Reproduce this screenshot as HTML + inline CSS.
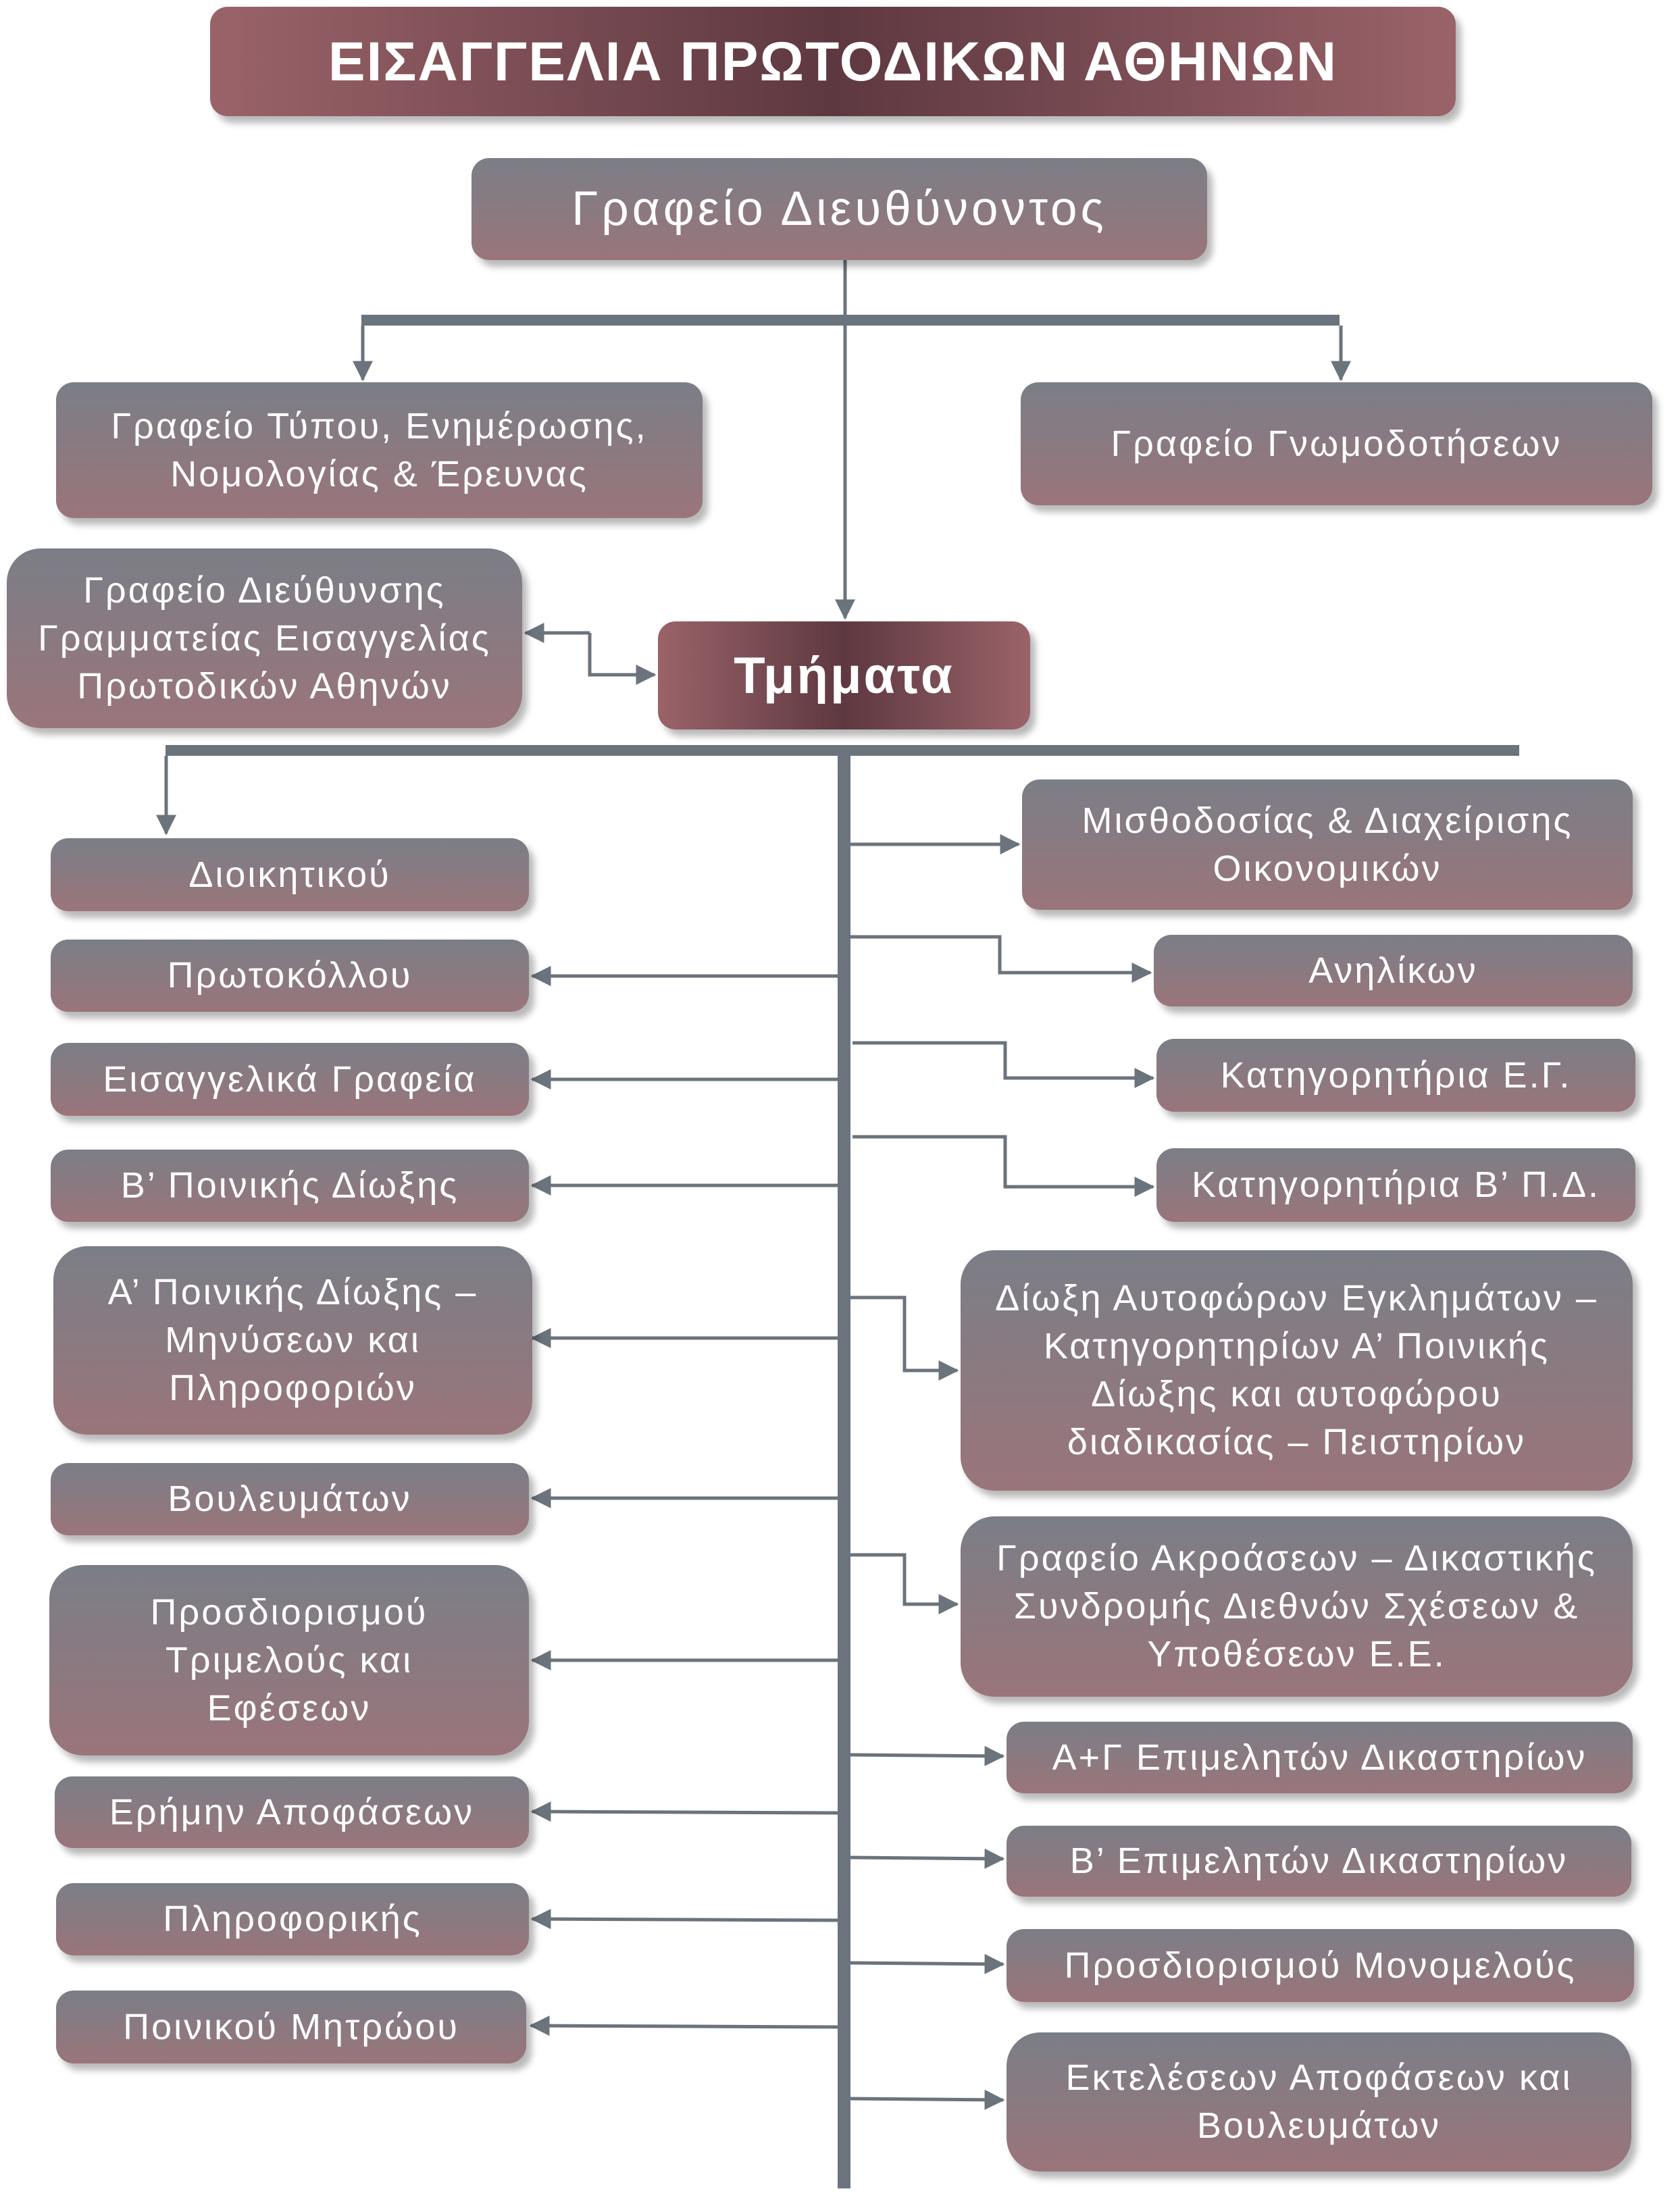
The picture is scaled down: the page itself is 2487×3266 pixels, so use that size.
<!DOCTYPE html>
<html><head><meta charset="utf-8">
<style>
body{margin:0;width:2487px;height:3266px;background:#fff;position:relative;overflow:hidden;font-family:"Liberation Sans","DejaVu Sans",sans-serif;}
.b{position:absolute;box-sizing:border-box;display:flex;align-items:center;justify-content:center;text-align:center;color:#fff;font-size:54px;line-height:71px;border-radius:26px;background:linear-gradient(#7b7e87,#9a757a);box-shadow:8px 10px 10px rgba(0,0,0,0.28);letter-spacing:3px;}
.r{border-radius:50px;}
.h{background:linear-gradient(90deg,#9a6369,#5e3840 50%,#9a6369);font-weight:bold;}
svg{position:absolute;left:0;top:0;}
</style></head><body>
<svg width="2487" height="3266">
<defs><marker id="a" markerWidth="6" markerHeight="6" refX="5.5" refY="3" orient="auto" markerUnits="strokeWidth"><path d="M0,0 L6,3 L0,6 z" fill="#6b737c"/></marker></defs>
<g stroke="#6b737c" stroke-width="5" fill="none">
<line x1="1251" y1="385" x2="1251" y2="915" marker-end="url(#a)"/>
<rect x="535" y="466" width="1448" height="16" fill="#6b737c" stroke="none"/>
<line x1="537" y1="482" x2="537" y2="562" marker-end="url(#a)"/>
<line x1="1985" y1="482" x2="1985" y2="562" marker-end="url(#a)"/>
<path d="M873,937 L778,937" marker-end="url(#a)"/>
<path d="M873,937 L873,999 L969,999" marker-end="url(#a)"/>
<rect x="245" y="1103" width="2004" height="16" fill="#6b737c" stroke="none"/>
<rect x="1240" y="1103" width="19" height="2137" fill="#6b737c" stroke="none"/>
<line x1="246" y1="1119" x2="246" y2="1234" marker-end="url(#a)"/>
<line x1="1240" y1="1445" x2="788" y2="1445" marker-end="url(#a)"/>
<line x1="1240" y1="1598" x2="788" y2="1598" marker-end="url(#a)"/>
<line x1="1240" y1="1755" x2="788" y2="1755" marker-end="url(#a)"/>
<line x1="1240" y1="1981" x2="788" y2="1981" marker-end="url(#a)"/>
<line x1="1240" y1="2218" x2="788" y2="2218" marker-end="url(#a)"/>
<line x1="1240" y1="2458" x2="788" y2="2458" marker-end="url(#a)"/>
<line x1="1240" y1="2684" x2="788" y2="2682" marker-end="url(#a)"/>
<line x1="1240" y1="2843" x2="788" y2="2841" marker-end="url(#a)"/>
<line x1="1240" y1="3001" x2="786" y2="2999" marker-end="url(#a)"/>
<line x1="1259" y1="1250" x2="1508" y2="1250" marker-end="url(#a)"/>
<path d="M1259,1387 L1480,1387 L1480,1440 L1703,1440" marker-end="url(#a)"/>
<path d="M1262,1544 L1488,1544 L1488,1596 L1707,1596" marker-end="url(#a)"/>
<path d="M1262,1683 L1488,1683 L1488,1757 L1707,1757" marker-end="url(#a)"/>
<path d="M1259,1921 L1339,1921 L1339,2029 L1417,2029" marker-end="url(#a)"/>
<path d="M1259,2302 L1339,2302 L1339,2375 L1417,2375" marker-end="url(#a)"/>
<line x1="1259" y1="2598" x2="1485" y2="2600" marker-end="url(#a)"/>
<line x1="1259" y1="2750" x2="1485" y2="2752" marker-end="url(#a)"/>
<line x1="1259" y1="2906" x2="1485" y2="2908" marker-end="url(#a)"/>
<line x1="1259" y1="3107" x2="1485" y2="3109" marker-end="url(#a)"/>
</g></svg>

<div class="b h" style="left:311px;top:10px;width:1844px;height:162px;font-size:82px;letter-spacing:2px;">ΕΙΣΑΓΓΕΛΙΑ ΠΡΩΤΟΔΙΚΩΝ ΑΘΗΝΩΝ</div>
<div class="b" style="left:698px;top:234px;width:1089px;height:151px;font-size:71px;letter-spacing:5px;">Γραφείο Διευθύνοντος</div>
<div class="b" style="left:83px;top:566px;width:957px;height:201px;">Γραφείο Τύπου, Ενημέρωσης,<br>Νομολογίας &amp; Έρευνας</div>
<div class="b" style="left:1511px;top:566px;width:935px;height:182px;">Γραφείο Γνωμοδοτήσεων</div>
<div class="b r" style="left:10px;top:812px;width:763px;height:266px;">Γραφείο Διεύθυνσης<br>Γραμματείας Εισαγγελίας<br>Πρωτοδικών Αθηνών</div>
<div class="b h" style="left:974px;top:920px;width:551px;height:160px;font-size:76px;letter-spacing:3px;">Τμήματα</div>

<div class="b" style="left:75px;top:1241px;width:708px;height:108px;">Διοικητικού</div>
<div class="b" style="left:75px;top:1391px;width:708px;height:107px;">Πρωτοκόλλου</div>
<div class="b" style="left:75px;top:1544px;width:708px;height:108px;">Εισαγγελικά Γραφεία</div>
<div class="b" style="left:75px;top:1702px;width:708px;height:107px;">Β’ Ποινικής Δίωξης</div>
<div class="b r" style="left:79px;top:1845px;width:709px;height:279px;">Α’ Ποινικής Δίωξης –<br>Μηνύσεων και<br>Πληροφοριών</div>
<div class="b" style="left:75px;top:2166px;width:708px;height:107px;">Βουλευμάτων</div>
<div class="b r" style="left:73px;top:2317px;width:710px;height:282px;">Προσδιορισμού<br>Τριμελούς και<br>Εφέσεων</div>
<div class="b" style="left:81px;top:2630px;width:702px;height:106px;">Ερήμην Αποφάσεων</div>
<div class="b" style="left:83px;top:2788px;width:700px;height:107px;">Πληροφορικής</div>
<div class="b" style="left:83px;top:2947px;width:696px;height:108px;">Ποινικού Μητρώου</div>

<div class="b" style="left:1513px;top:1154px;width:904px;height:193px;">Μισθοδοσίας &amp; Διαχείρισης<br>Οικονομικών</div>
<div class="b" style="left:1708px;top:1384px;width:709px;height:106px;">Ανηλίκων</div>
<div class="b" style="left:1712px;top:1538px;width:709px;height:108px;">Κατηγορητήρια Ε.Γ.</div>
<div class="b" style="left:1712px;top:1700px;width:709px;height:109px;">Κατηγορητήρια Β’ Π.Δ.</div>
<div class="b r" style="left:1422px;top:1851px;width:995px;height:356px;">Δίωξη Αυτοφώρων Εγκλημάτων –<br>Κατηγορητηρίων Α’ Ποινικής<br>Δίωξης και αυτοφώρου<br>διαδικασίας – Πειστηρίων</div>
<div class="b r" style="left:1422px;top:2245px;width:995px;height:267px;">Γραφείο Ακροάσεων – Δικαστικής<br>Συνδρομής Διεθνών Σχέσεων &amp;<br>Υποθέσεων Ε.Ε.</div>
<div class="b" style="left:1490px;top:2549px;width:927px;height:106px;">Α+Γ Επιμελητών Δικαστηρίων</div>
<div class="b" style="left:1490px;top:2703px;width:925px;height:105px;">Β’ Επιμελητών Δικαστηρίων</div>
<div class="b" style="left:1490px;top:2856px;width:929px;height:108px;">Προσδιορισμού Μονομελούς</div>
<div class="b r" style="left:1490px;top:3009px;width:925px;height:206px;">Εκτελέσεων Αποφάσεων και<br>Βουλευμάτων</div>
</body></html>
